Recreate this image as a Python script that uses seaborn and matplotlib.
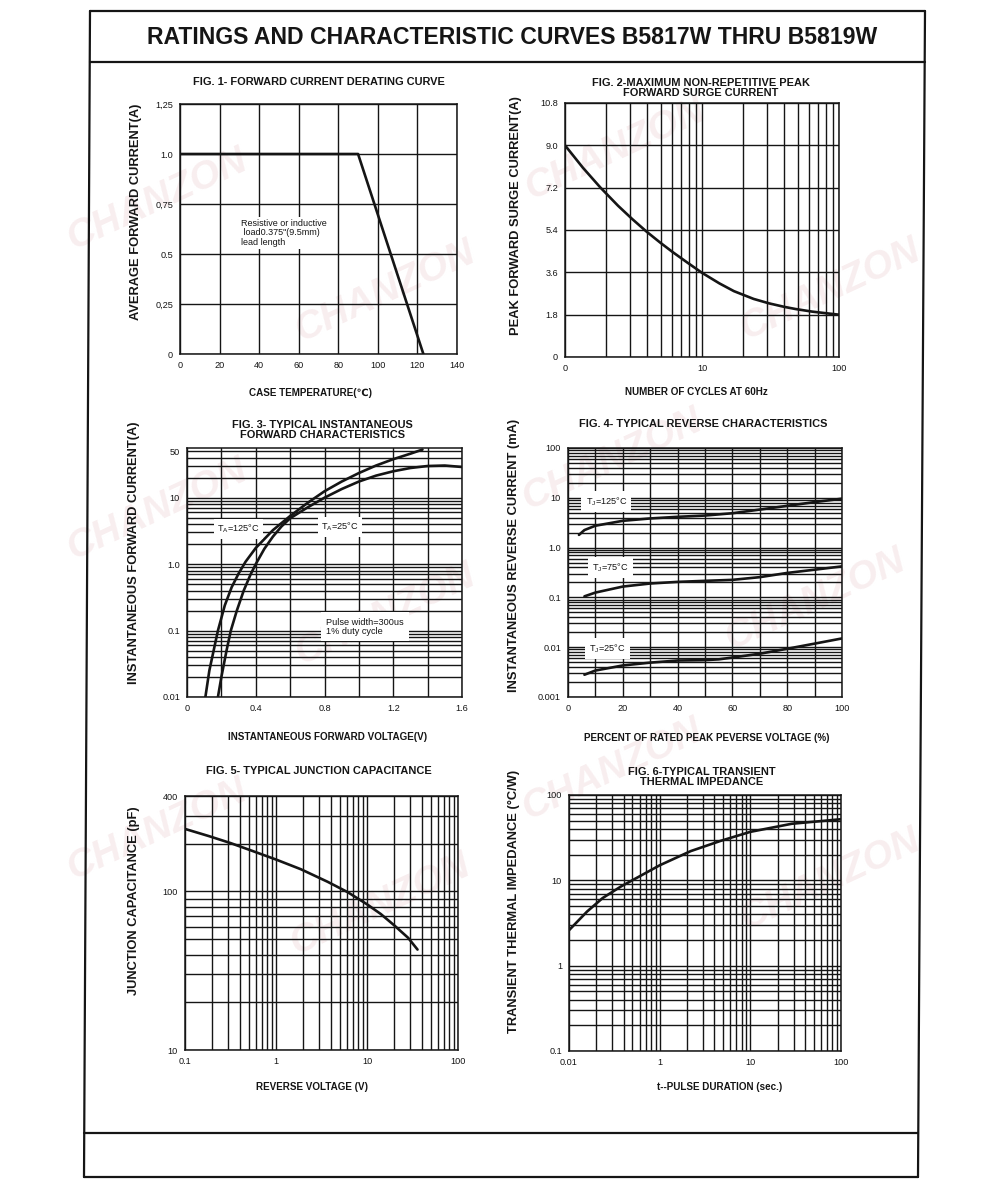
import matplotlib
matplotlib.use('Agg')
import matplotlib.pyplot as plt
import matplotlib.ticker as mticker
from matplotlib.lines import Line2D
import seaborn as sns

# ---- data ----
# Fig 1 forward current derating
case_temp = [0, 90, 123]
avg_current = [1.0, 1.0, 0.0]

# Fig 2 peak forward surge current
cycles = [1, 1.35, 1.81, 2.44, 3.09, 3.94, 4.94, 6.08, 7.75, 10, 13.4, 17.1, 23.8, 30.9, 40, 48.2, 63.6, 80.7, 100]
surge_current = [9.0, 8.05, 7.21, 6.43, 5.87, 5.33, 4.87, 4.47, 4.03, 3.58, 3.13, 2.80, 2.47, 2.28, 2.13, 2.04, 1.93, 1.86, 1.80]

# Fig 3 forward characteristics
vf_125 = [0.107, 0.13, 0.155, 0.18, 0.22, 0.26, 0.30, 0.34, 0.40, 0.50, 0.60, 0.70, 0.80, 0.90, 1.00, 1.10, 1.20, 1.30, 1.37]
if_125 = [0.01, 0.025, 0.05, 0.1, 0.24, 0.45, 0.72, 1.08, 1.75, 3.25, 5.3, 8.3, 12.5, 17.5, 23.5, 30.5, 38, 46, 53]
vf_25 = [0.18, 0.20, 0.23, 0.255, 0.29, 0.33, 0.37, 0.40, 0.45, 0.50, 0.55, 0.60, 0.70, 0.80, 0.90, 1.00, 1.10, 1.20, 1.30, 1.40, 1.50, 1.60]
if_25 = [0.01, 0.02, 0.05, 0.1, 0.2, 0.4, 0.7, 1.0, 1.7, 2.6, 3.7, 4.9, 7.1, 10, 13.5, 17.5, 21.5, 25, 28, 30, 30.5, 29]

# Fig 4 reverse characteristics
pct_125 = [4, 6, 10, 20, 30, 40, 50, 60, 70, 80, 90, 100]
ir_125 = [1.8, 2.25, 2.75, 3.45, 3.85, 4.15, 4.4, 4.9, 5.8, 6.9, 8.2, 9.6]
pct_75 = [6, 10, 20, 30, 40, 50, 60, 70, 80, 90, 100]
ir_75 = [0.105, 0.125, 0.165, 0.19, 0.205, 0.215, 0.225, 0.255, 0.31, 0.36, 0.42]
pct_25 = [6, 10, 20, 30, 40, 50, 55, 60, 70, 80, 90, 100]
ir_25 = [0.0028, 0.0034, 0.0043, 0.0049, 0.0054, 0.0055, 0.0057, 0.0062, 0.0074, 0.0093, 0.0118, 0.015]

# Fig 5 junction capacitance
rev_voltage = [0.1, 0.185, 0.316, 0.51, 1, 1.88, 3.7, 6.13, 10, 14.2, 20, 28.3, 35.9]
junction_cap = [248, 223, 202, 183, 159, 138, 115, 99, 83, 72, 61, 51, 43]

# Fig 6 transient thermal impedance (x as drawn on the printed axis)
pulse_pos = [0.01, 0.0158, 0.0235, 0.0376, 0.0634, 0.1, 0.22, 0.47, 1, 2.86, 10]
thermal_z = [2.6, 4.3, 6.2, 8.5, 11.5, 15, 22, 29, 37, 46, 52]

# tick labels as printed
fig1_yticks = [0, 0.25, 0.5, 0.75, 1.0, 1.25]
fig1_ylabels = ['0', '0,25', '0.5', '0,75', '1.0', '1,25']
fig2_yticks = [0, 1.8, 3.6, 5.4, 7.2, 9.0, 10.8]
fig2_ylabels = ['0', '1.8', '3.6', '5.4', '7.2', '9.0', '10.8']
fig2_xticks = [1, 10, 100]
fig2_xlabels = ['0', '10', '100']
fig3_yticks = [0.01, 0.1, 1, 10, 50]
fig3_ylabels = ['0.01', '0.1', '1.0', '10', '50']
fig4_yticks = [0.001, 0.01, 0.1, 1, 10, 100]
fig4_ylabels = ['0.001', '0.01', '0.1', '1.0', '10', '100']
fig5_xticks = [0.1, 1, 10, 100]
fig5_xlabels = ['0.1', '1', '10', '100']
fig5_yticks = [10, 100, 400]
fig5_ylabels = ['10', '100', '400']
fig6_xticks = [0.01, 0.1, 1, 10]
fig6_xlabels = ['0.01', '1', '10', '100']
fig6_yticks = [0.1, 1, 10, 100]
fig6_ylabels = ['0.1', '1', '10', '100']

# faint CHANZON watermark centres (pixels)
watermark_xy = [(157, 200), (157, 510), (157, 830),
                (385, 292), (385, 615), (380, 905),
                (615, 150), (612, 460), (612, 770),
                (830, 290), (815, 600), (830, 880)]

sns.set_theme(style='white')
plt.rcParams['font.family'] = ['Liberation Sans', 'DejaVu Sans']
plt.rcParams['mathtext.fontset'] = 'custom'
plt.rcParams['mathtext.rm'] = 'Liberation Sans'

W, H = 1000, 1181
INK = '#151515'
fig = plt.figure(figsize=(W / 100, H / 100), dpi=100)
fig.patch.set_facecolor('white')


def fx(x):
    return x / W


def fy(y):
    return 1 - y / H


def add_ax(l, t, r, b):
    ax = fig.add_axes([fx(l), fy(b), (r - l) / W, (b - t) / H])
    ax.set_facecolor('none')
    for s in ax.spines.values():
        s.set_color(INK)
        s.set_linewidth(1.1)
    ax.tick_params(which='both', length=0, pad=5, labelsize=6.6, colors=INK)
    return ax


def style_grid(ax):
    ax.grid(True, which='both', color=INK, linewidth=1.0)
    ax.set_axisbelow(True)


def label_axes(ax, xlabel, ylabel, xl_pos, yl_pos):
    ax.set_xlabel(xlabel, fontsize=7.1, fontweight='bold', color=INK)
    ax.set_ylabel(ylabel, fontsize=9.3, fontweight='bold', color=INK)
    ax.xaxis.set_label_coords(*xl_pos)
    ax.yaxis.set_label_coords(*yl_pos)


def fig_title(x, y, s):
    fig.text(fx(x), fy(y), s, ha='center', va='center', fontsize=7.9,
             fontweight='bold', color=INK, linespacing=1.0)


def curve(ax, x, y):
    sns.lineplot(x=x, y=y, ax=ax, color=INK, linewidth=1.9, estimator=None, sort=False)


box = dict(facecolor='white', edgecolor='none', pad=1.5)

# ---- watermark ----
for wx, wy in watermark_xy:
    fig.text(fx(wx), fy(wy), 'CHANZON', ha='center', va='center', fontsize=28,
             fontweight='bold', fontstyle='italic', rotation=25, color='#f8eeef', zorder=-5)

# ---- page frame ----
frame = [((90, 11), (925, 11)), ((90, 11), (84, 1177)), ((925, 11), (918, 1177)),
         ((90, 62), (925, 62)), ((84, 1133), (918, 1133)), ((84, 1177), (918, 1177))]
for (x1, y1), (x2, y2) in frame:
    fig.add_artist(Line2D([fx(x1), fx(x2)], [fy(y1), fy(y2)], color=INK, linewidth=1.6))
fig.text(fx(512), fy(38), 'RATINGS AND CHARACTERISTIC CURVES B5817W THRU B5819W',
         ha='center', va='center', fontsize=16.6, fontweight='bold', color=INK)

# ---- Fig 1 ----
ax1 = add_ax(180, 104, 457, 354)
curve(ax1, case_temp, avg_current)
ax1.set_xlim(0, 140)
ax1.set_ylim(0, 1.25)
ax1.set_xticks(range(0, 141, 20))
ax1.set_yticks(fig1_yticks)
ax1.set_yticklabels(fig1_ylabels)
style_grid(ax1)
ax1.text(31, 0.675, 'Resistive or inductive\n load0.375"(9.5mm)\nlead length', fontsize=6.5,
         va='top', ha='left', color=INK, bbox=box, linespacing=1.05)
label_axes(ax1, 'CASE TEMPERATURE(\u2103)', 'AVERAGE FORWARD CURRENT(A)', (0.47, -0.137), (-0.137, 0.568))
fig_title(319, 82, 'FIG. 1- FORWARD CURRENT DERATING CURVE')

# ---- Fig 2 ----
ax2 = add_ax(565, 103, 839, 357)
curve(ax2, cycles, surge_current)
ax2.set_xscale('log')
ax2.set_xlim(1, 100)
ax2.set_ylim(0, 10.8)
ax2.set_xticks(fig2_xticks)
ax2.set_xticklabels(fig2_xlabels)
ax2.xaxis.set_minor_locator(mticker.LogLocator(base=10, subs=range(2, 10)))
ax2.xaxis.set_minor_formatter(mticker.NullFormatter())
ax2.set_yticks(fig2_yticks)
ax2.set_yticklabels(fig2_ylabels)
style_grid(ax2)
label_axes(ax2, 'NUMBER OF CYCLES AT 60Hz', 'PEAK FORWARD SURGE CURRENT(A)', (0.48, -0.118), (-0.157, 0.555))
fig_title(701, 88, 'FIG. 2-MAXIMUM NON-REPETITIVE PEAK\nFORWARD SURGE CURRENT')

# ---- Fig 3 ----
ax3 = add_ax(187, 448, 462, 697)
curve(ax3, vf_125, if_125)
curve(ax3, vf_25, if_25)
ax3.set_yscale('log')
ax3.set_xlim(0, 1.6)
ax3.set_ylim(0.01, 56)
ax3.set_xticks([0, 0.4, 0.8, 1.2, 1.6])
ax3.set_xticklabels(['0', '0.4', '0.8', '1.2', '1.6'])
ax3.xaxis.set_minor_locator(mticker.MultipleLocator(0.2))
ax3.set_yticks(fig3_yticks)
ax3.set_yticklabels(fig3_ylabels)
ax3.yaxis.set_minor_locator(mticker.LogLocator(base=10, subs=range(2, 10)))
ax3.yaxis.set_minor_formatter(mticker.NullFormatter())
style_grid(ax3)
lbl_box = dict(facecolor='white', edgecolor='none', pad=2.5)
ax3.text(0.30, 3.4, 'T$_\\mathregular{A}$=125\u00b0C', fontsize=6.6, ha='center', va='center',
         color=INK, bbox=lbl_box)
ax3.text(0.89, 3.6, 'T$_\\mathregular{A}$=25\u00b0C', fontsize=6.6, ha='center', va='center',
         color=INK, bbox=lbl_box)
ax3.text(0.81, 0.115, 'Pulse width=300us\n1% duty cycle', fontsize=6.6, ha='left', va='center',
         color=INK, bbox=dict(facecolor='white', edgecolor='none', pad=4), linespacing=1.0)
label_axes(ax3, 'INSTANTANEOUS FORWARD VOLTAGE(V)', 'INSTANTANEOUS FORWARD CURRENT(A)', (0.51, -0.14), (-0.171, 0.578))
fig_title(322, 430, 'FIG. 3- TYPICAL INSTANTANEOUS\nFORWARD CHARACTERISTICS')

# ---- Fig 4 ----
ax4 = add_ax(568, 448, 842, 697)
curve(ax4, pct_125, ir_125)
curve(ax4, pct_75, ir_75)
curve(ax4, pct_25, ir_25)
ax4.set_yscale('log')
ax4.set_xlim(0, 100)
ax4.set_ylim(0.001, 100)
ax4.set_xticks(range(0, 101, 20))
ax4.xaxis.set_minor_locator(mticker.MultipleLocator(10))
ax4.set_yticks(fig4_yticks)
ax4.set_yticklabels(fig4_ylabels)
ax4.yaxis.set_minor_locator(mticker.LogLocator(base=10, subs=range(2, 10)))
ax4.yaxis.set_minor_formatter(mticker.NullFormatter())
style_grid(ax4)
tj_box = dict(facecolor='white', edgecolor='none', pad=3)
ax4.text(14, 8.4, 'T$_\\mathregular{J}$=125\u00b0C', fontsize=6.6, ha='center', va='center', color=INK, bbox=tj_box)
ax4.text(15.5, 0.4, 'T$_\\mathregular{J}$=75\u00b0C', fontsize=6.6, ha='center', va='center', color=INK, bbox=tj_box)
ax4.text(14.5, 0.0095, 'T$_\\mathregular{J}$=25\u00b0C', fontsize=6.6, ha='center', va='center', color=INK, bbox=tj_box)
label_axes(ax4, 'PERCENT OF RATED PEAK PEVERSE VOLTAGE (%)', 'INSTANTANEOUS REVERSE CURRENT (mA)', (0.505, -0.145), (-0.175, 0.57))
fig_title(703, 424, 'FIG. 4- TYPICAL REVERSE CHARACTERISTICS')

# ---- Fig 5 ----
ax5 = add_ax(185, 796, 458, 1050)
curve(ax5, rev_voltage, junction_cap)
ax5.set_xscale('log')
ax5.set_yscale('log')
ax5.set_xlim(0.1, 100)
ax5.set_ylim(10, 400)
ax5.set_xticks(fig5_xticks)
ax5.set_xticklabels(fig5_xlabels)
ax5.set_yticks(fig5_yticks)
ax5.set_yticklabels(fig5_ylabels)
for axis in (ax5.xaxis, ax5.yaxis):
    axis.set_minor_locator(mticker.LogLocator(base=10, subs=range(2, 10)))
    axis.set_minor_formatter(mticker.NullFormatter())
style_grid(ax5)
label_axes(ax5, 'REVERSE VOLTAGE (V)', 'JUNCTION CAPACITANCE (pF)', (0.465, -0.126), (-0.165, 0.587))
fig_title(319, 771, 'FIG. 5- TYPICAL JUNCTION CAPACITANCE')

# ---- Fig 6 ----
ax6 = add_ax(569, 795, 841, 1051)
curve(ax6, pulse_pos, thermal_z)
ax6.set_xscale('log')
ax6.set_yscale('log')
ax6.set_xlim(0.01, 10)
ax6.set_ylim(0.1, 100)
ax6.set_xticks(fig6_xticks)
ax6.set_xticklabels(fig6_xlabels)
ax6.set_yticks(fig6_yticks)
ax6.set_yticklabels(fig6_ylabels)
for axis in (ax6.xaxis, ax6.yaxis):
    axis.set_minor_locator(mticker.LogLocator(base=10, subs=range(2, 10)))
    axis.set_minor_formatter(mticker.NullFormatter())
style_grid(ax6)
label_axes(ax6, 't--PULSE DURATION (sec.)', 'TRANSIENT THERMAL IMPEDANCE (\u00b0C/W)', (0.555, -0.123), (-0.18, 0.586))
fig_title(702, 777, 'FIG. 6-TYPICAL TRANSIENT\nTHERMAL IMPEDANCE')

fig.savefig('out.png', dpi=100, facecolor='white')
